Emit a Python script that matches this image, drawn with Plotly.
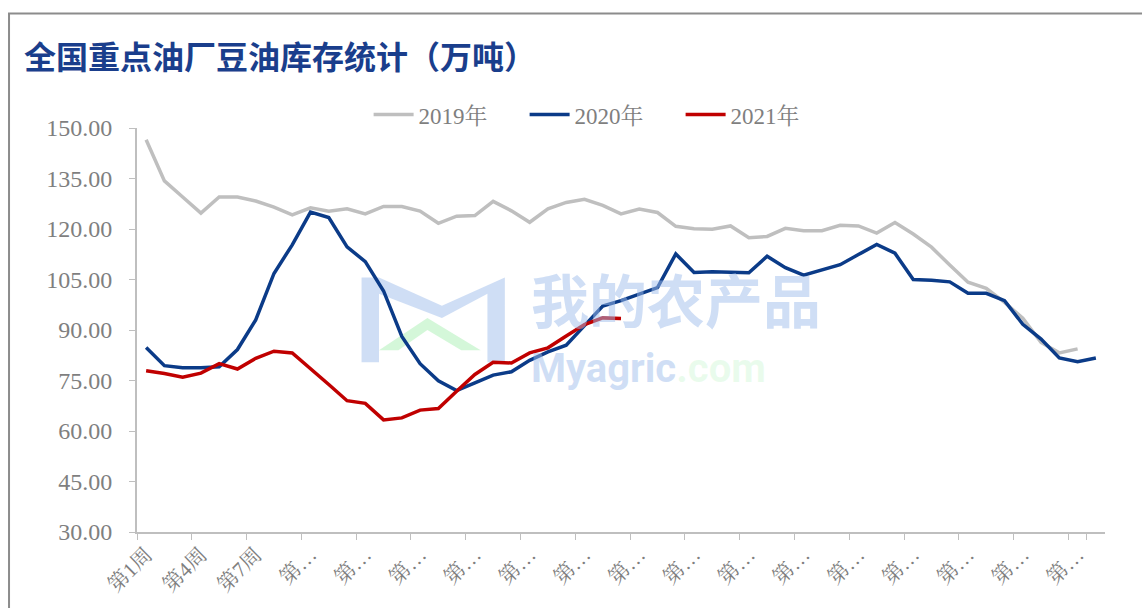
import plotly.graph_objects as go

weeks = [f"第{i}周" for i in range(1, 54)]

inv_2019 = [146.5, 134.3, 129.5, 124.7, 129.5, 129.5, 128.3, 126.5, 124.2, 126.3,
            125.3, 126.0, 124.5, 126.7, 126.7, 125.3, 121.7, 123.8, 124.0, 128.2,
            125.4, 122.0, 126.0, 127.9, 128.8, 127.0, 124.5, 125.9, 124.9, 120.8,
            120.1, 119.9, 120.9, 117.4, 117.8, 120.2, 119.5, 119.5, 121.1, 120.9,
            118.8, 121.9, 118.5, 114.6, 109.3, 104.2, 102.4, 98.2, 93.5, 86.3,
            83.2, 84.4]

inv_2020 = [84.8, 79.4, 78.8, 78.8, 79.1, 84.2, 93.0, 106.8, 115.3, 125.0,
            123.4, 114.7, 110.3, 101.6, 88.1, 80.0, 74.9, 72.0, 74.3, 76.6,
            77.6, 81.0, 83.5, 85.5, 91.3, 97.1, 98.7, 100.6, 102.6, 112.6,
            107.1, 107.3, 107.2, 107.0, 111.9, 108.5, 106.3, 107.8, 109.4, 112.4,
            115.4, 112.8, 105.0, 104.8, 104.3, 100.9, 100.9, 98.7, 91.7, 87.3,
            81.7, 80.6, 81.7]

inv_2021 = [77.9, 77.1, 76.0, 77.2, 80.0, 78.4, 81.6, 83.7, 83.2, 78.6,
            73.8, 69.0, 68.2, 63.3, 63.9, 66.2, 66.7, 71.8, 76.8, 80.4,
            80.2, 83.2, 84.7, 88.2, 91.6, 93.6, 93.4]

series_names = ["2019年", "2020年", "2021年"]
series_colors = ["#bfbfbf", "#0b3b88", "#c00000"]

tick_weeks = weeks[::3]
tick_text = [w if i < 3 else "第…" for i, w in enumerate(tick_weeks)]

y_ticks = [30, 45, 60, 75, 90, 105, 120, 135, 150]

fig = go.Figure()
for name, vals, col in zip(series_names, [inv_2019, inv_2020, inv_2021], series_colors):
    fig.add_trace(go.Scatter(
        x=weeks[:len(vals)], y=vals, name=name, mode="lines",
        line=dict(color=col, width=3.5), hoverinfo="x+y+name"))

serif = "Liberation Serif, Times New Roman, Noto Serif CJK SC, serif"
axis_col = "#bfbfbf"
txt_col = "#7f7f7f"
wm_blue = "rgba(160,190,235,0.5)"
wm_green = "rgba(170,240,180,0.5)"

fig.update_layout(
    width=1142, height=608,
    margin=dict(l=137, r=37, t=128, b=76),
    paper_bgcolor="white", plot_bgcolor="white",
    showlegend=True,
    legend=dict(orientation="h", x=0.481, y=1.033, xanchor="center", yanchor="middle",
                font=dict(family=serif, size=23, color=txt_col),
                itemwidth=40, entrywidth=101, entrywidthmode="pixels",
                bgcolor="rgba(0,0,0,0)"),
    xaxis=dict(type="category", categoryorder="array", categoryarray=weeks,
               range=[-0.5, 52.5], tickmode="array", tickvals=tick_weeks, ticktext=tick_text,
               tickson="boundaries", tickangle=-45, ticks="outside", ticklen=6,
               tickcolor=axis_col, showline=True, linecolor=axis_col, linewidth=2,
               showgrid=False, zeroline=False,
               tickfont=dict(family=serif, size=21, color=txt_col)),
    yaxis=dict(range=[30, 150], tickmode="array", tickvals=y_ticks,
               ticktext=[f"{v:.2f}" for v in y_ticks],
               ticks="outside", ticklen=6, tickcolor=axis_col, showline=True,
               linecolor=axis_col, linewidth=2, showgrid=False, zeroline=False,
               ticklabelstandoff=12,
               tickfont=dict(family=serif, size=24, color=txt_col)),
    annotations=[
        dict(text="<b>全国重点油厂豆油库存统计（万吨）</b>", xref="paper", yref="paper",
             x=-0.1185, y=1.18, xanchor="left", yanchor="middle", showarrow=False,
             font=dict(family="Noto Sans CJK SC", size=32, color="#1a3e8c")),
        dict(text="<b>我的农产品</b>", xref="paper", yref="paper",
             x=0.405, y=0.58, xanchor="left", yanchor="middle", showarrow=False,
             font=dict(family="Noto Sans CJK SC", size=58, color=wm_blue)),
        dict(text="<b>Myagric</b><span style='color:" + wm_green + "'><b>.com</b></span>",
             xref="paper", yref="paper",
             x=0.405, y=0.405, xanchor="left", yanchor="middle", showarrow=False,
             font=dict(family="Roboto", size=40, color=wm_blue)),
    ],
    shapes=[
        dict(type="path", xref="paper", yref="paper", layer="above",
             path="M -0.1322,-0.2 L -0.1322,1.2833 L 1.05,1.2833",
             line=dict(color="#8c8c8c", width=2)),
        dict(type="path", xref="paper", yref="paper", layer="below",
             path="M 0.232,0.42 L 0.232,0.63 L 0.25,0.63 L 0.315,0.56 L 0.38,0.63 L 0.38,0.42 L 0.362,0.42 L 0.362,0.59 L 0.315,0.53 L 0.25,0.59 L 0.25,0.42 Z",
             fillcolor=wm_blue, line=dict(width=0)),
        dict(type="path", xref="paper", yref="paper", layer="below",
             path="M 0.25,0.45 L 0.30,0.53 L 0.355,0.45 L 0.335,0.45 L 0.30,0.50 L 0.27,0.45 Z",
             fillcolor=wm_green, line=dict(width=0)),
    ],
)

fig.write_html("out.html", config={"displayModeBar": False},
               post_script="document.body.style.margin='0';document.body.style.overflow='hidden';")
